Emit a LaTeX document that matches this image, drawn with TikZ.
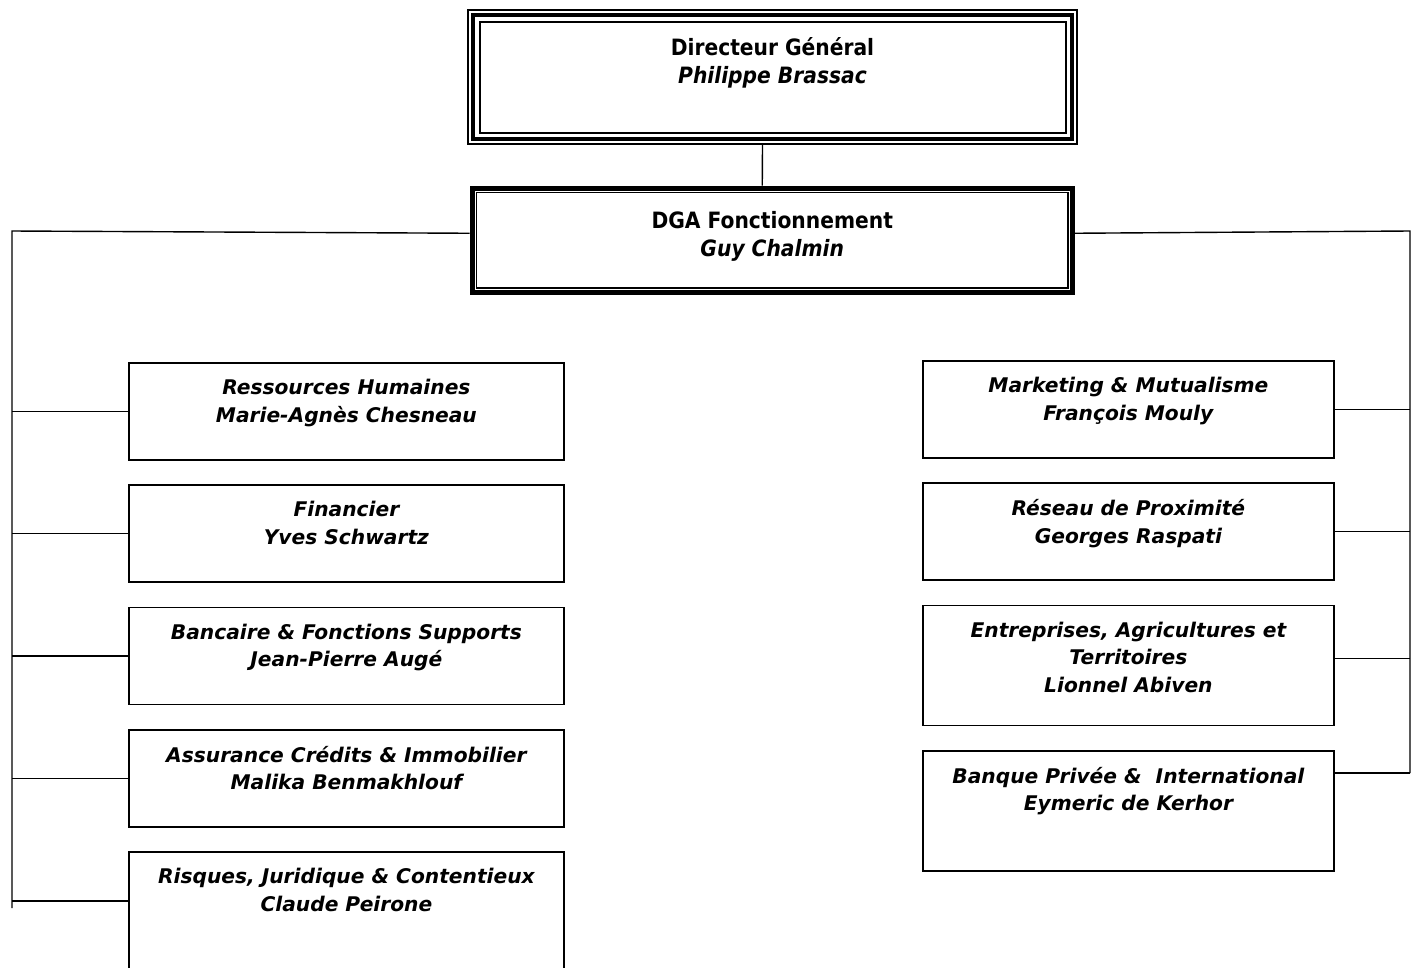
\documentclass[tikz,border=0pt]{standalone}
\usepackage{fontspec}
\setmainfont{DejaVu Sans}
\newfontfamily\headfont{DejaVu Sans Condensed}
\usetikzlibrary{positioning,calc}

\tikzset{
  deptbox/.style={draw, line width=1.8pt, inner sep=0pt, minimum height=97pt},
  leftbox/.style={deptbox, minimum width=435pt},
  rightbox/.style={deptbox, minimum width=411pt},
  tallbox/.style={minimum height=120pt},
  depttext/.style={anchor=north, align=center, inner sep=0pt,
    font=\fontsize{20.2}{27.5}\selectfont\bfseries\itshape},
  headtext/.style={anchor=north, align=center, inner sep=0pt,
    font=\headfont\fontsize{22.5}{28}\selectfont\bfseries},
  bus/.style={line width=1.4pt},
}

\begin{document}
\begin{tikzpicture}[x=1pt, y=-1pt]
  \useasboundingbox (0,0) rectangle (1419,967);

  % direction generale
  \node[draw, line width=2pt, minimum width=609pt, minimum height=134pt,
        anchor=north west] (dg) at (467,9) {};
  \draw[line width=3.3pt] ([shift={(6pt,-6pt)}]dg.north west)
    rectangle ([shift={(-6pt,6pt)}]dg.south east);
  \draw[line width=2pt] ([shift={(12.5pt,-12.5pt)}]dg.north west)
    rectangle ([shift={(-12.5pt,12.5pt)}]dg.south east);
  \node[headtext] (dgtxt) at ([yshift=-28pt]dg.north)
    {Directeur Général\\ {\itshape Philippe Brassac}};

  \node[draw, line width=5.5pt, minimum width=600pt, minimum height=104pt,
        anchor=north west] (dga) at (469.5,185.5) {};
  \draw[line width=1.5pt] ([shift={(7pt,-7pt)}]dga.north west)
    rectangle ([shift={(-7pt,7pt)}]dga.south east);
  \node[headtext] (dgatxt) at ([yshift=-26pt]dga.north)
    {DGA Fonctionnement\\ {\itshape Guy Chalmin}};

  % colonne gauche
  \node[leftbox, anchor=north west] (rh) at (128,362) {};
  \node[leftbox, below=23.5pt of rh] (fin) {};
  \node[leftbox, below=23.5pt of fin] (ban) {};
  \node[leftbox, below=23.5pt of ban] (ass) {};
  \node[leftbox, tallbox, below=23.5pt of ass] (ris) {};

  \node[depttext] at ([yshift=-17pt]rh.north)
    {Ressources Humaines\\ Marie-Agnès Chesneau};
  \node[depttext] at ([yshift=-17pt]fin.north)
    {Financier\\ Yves Schwartz};
  \node[depttext] at ([yshift=-17pt]ban.north)
    {Bancaire \& Fonctions Supports\\ Jean-Pierre Augé};
  \node[depttext] at ([yshift=-17pt]ass.north)
    {Assurance Crédits \& Immobilier\\ Malika Benmakhlouf};
  \node[depttext] at ([yshift=-17pt]ris.north)
    {Risques, Juridique \& Contentieux\\ Claude Peirone};

  % colonne droite
  \node[rightbox, anchor=north west] (mkt) at (922,360) {};
  \node[rightbox, below=23.5pt of mkt] (res) {};
  \node[rightbox, tallbox, below=23.5pt of res] (ent) {};
  \node[rightbox, tallbox, below=23.5pt of ent] (bp) {};

  \node[depttext] at ([yshift=-17pt]mkt.north)
    {Marketing \& Mutualisme\\ François Mouly};
  \node[depttext] at ([yshift=-17pt]res.north)
    {Réseau de Proximité\\ Georges Raspati};
  \node[depttext] at ([yshift=-17pt]ent.north)
    {Entreprises, Agricultures et\\ Territoires\\ Lionnel Abiven};
  \node[depttext] at ([yshift=-17pt]bp.north)
    {Banque Privée \&\ \ International\\ Eymeric de Kerhor};

  % liaisons
  \draw[bus] ([xshift=-10pt]dg.south) -- ([xshift=-10pt]dga.north);

  \coordinate (lt) at (12,231);
  \coordinate (lb) at (12,908);
  \coordinate (rt) at (1410,231);
  \coordinate (rb) at (1410,773);
  \coordinate (risj) at ([yshift=11pt]ris.west);
  \coordinate (entj) at ([yshift=7pt]ent.east);
  \draw[bus] ([yshift=7pt]dga.west) -- (lt) -- (lb);
  \draw[bus] ([yshift=7pt]dga.east) -- (rt) -- (rb);

  \draw[bus] (lt |- rh.west) -- (rh.west);
  \draw[bus] (lt |- fin.west) -- (fin.west);
  \draw[bus] (lt |- ban.west) -- (ban.west);
  \draw[bus] (lt |- ass.west) -- (ass.west);
  \draw[bus] (lt |- risj) -- (risj);

  \draw[bus] (rt |- mkt.east) -- (mkt.east);
  \draw[bus] (rt |- res.east) -- (res.east);
  \draw[bus] (rt |- entj) -- (entj);
  \draw[bus] (rb) -- (bp.east |- rb);
\end{tikzpicture}
\end{document}
